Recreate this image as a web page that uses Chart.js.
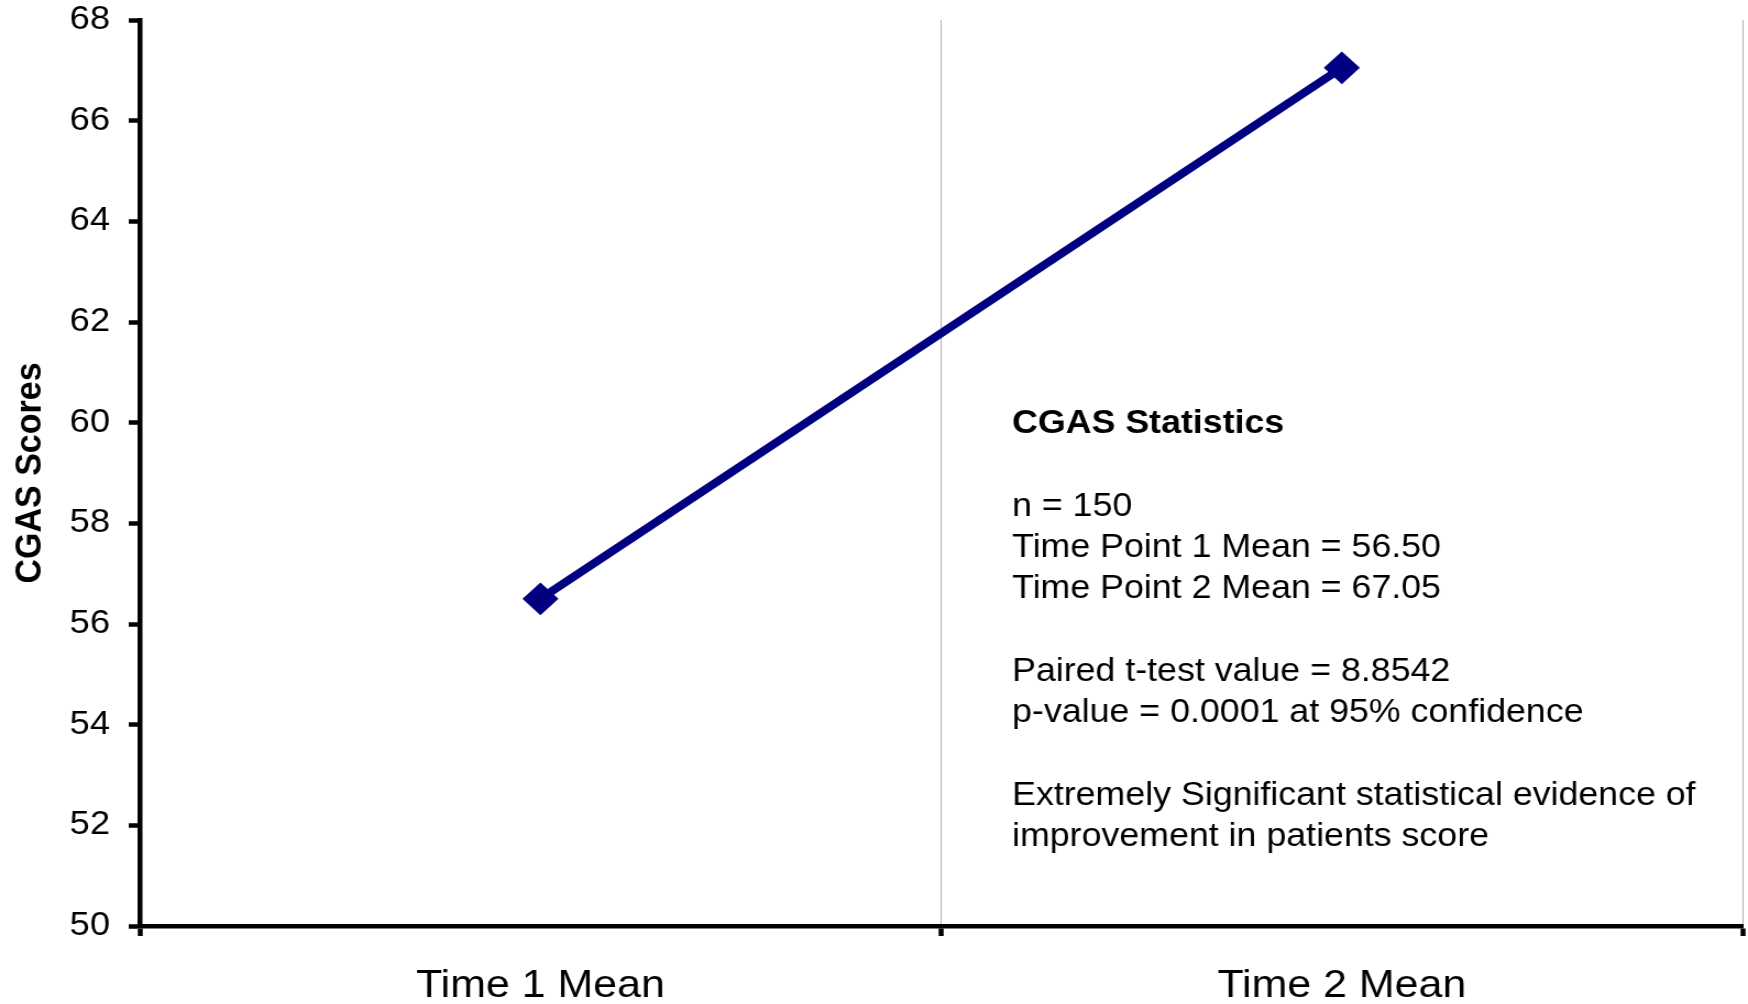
<!DOCTYPE html>
<html>
<head>
<meta charset="utf-8">
<title>CGAS Scores</title>
<script src="https://cdn.jsdelivr.net/npm/chart.js@4"></script>
<style>
  html, body { margin: 0; padding: 0; background: #fff; overflow: hidden; }
  #chart { display: block; }
</style>
</head>
<body>
<!-- the chart is laid out on a narrower canvas and widened on screen -->
<canvas id="chart" width="1589" height="1004" style="width:1748px;height:1004px"></canvas>
<script>
// Mean CGAS score at each time point
const categories = ['Time 1 Mean', 'Time 2 Mean'];
const cgasMeans = [56.50, 67.05];

// Y axis tick values
const yTickValues = [50, 52, 54, 56, 58, 60, 62, 64, 66, 68];

// Summary statistics shown beside the line
const sampleSize = 150;
const tTestValue = '8.8542';
const pValue = '0.0001';
const confidence = '95%';

const statsTitle = 'CGAS Statistics';
const statsLines = [
  '',
  'n = ' + sampleSize,
  'Time Point 1 Mean = ' + cgasMeans[0].toFixed(2),
  'Time Point 2 Mean = ' + cgasMeans[1].toFixed(2),
  '',
  'Paired t-test value = ' + tTestValue,
  'p-value = ' + pValue + ' at ' + confidence + ' confidence',
  '',
  'Extremely Significant statistical evidence of',
  'improvement in patients score'
];

const FONT = '"Liberation Sans", Arial, Helvetica, sans-serif';

// Draws the statistics block inside the plot area
const statsBlock = {
  id: 'statsBlock',
  afterDraw(chart) {
    const ctx = chart.ctx;
    const x = 920, y0 = 424, lh = 41.3;
    ctx.save();
    ctx.fillStyle = '#000';
    ctx.textAlign = 'left';
    ctx.textBaseline = 'middle';
    ctx.font = 'bold 32.5px ' + FONT;
    ctx.fillText(statsTitle, x, y0);
    ctx.font = '32.5px ' + FONT;
    statsLines.forEach((line, i) => {
      if (line) ctx.fillText(line, x, y0 + (i + 1) * lh);
    });
    ctx.restore();
  }
};

new Chart(document.getElementById('chart'), {
  type: 'line',
  data: {
    labels: categories,
    datasets: [{
      data: cgasMeans,
      borderColor: '#000080',
      backgroundColor: '#000080',
      borderWidth: 8,
      tension: 0,
      pointStyle: 'rectRot',
      pointRadius: 15,
      pointBorderWidth: 2,
      pointBackgroundColor: '#000080',
      pointBorderColor: '#000080',
      clip: false
    }]
  },
  options: {
    responsive: false,
    devicePixelRatio: 1,
    animation: false,
    layout: { autoPadding: false, padding: { top: 20, right: 5, bottom: 0, left: 0 } },
    plugins: {
      legend: { display: false },
      tooltip: { enabled: false }
    },
    scales: {
      x: {
        offset: true,
        grid: {
          offset: true,
          drawOnChartArea: true,
          color: '#b4b4b4',
          lineWidth: 1,
          tickColor: '#000',
          tickWidth: 4.5,
          tickLength: 10
        },
        border: { display: true, color: '#000', width: 4.5 },
        ticks: {
          color: '#000',
          font: { family: FONT, size: 39 },
          padding: 27,
          maxRotation: 0
        },
        afterFit(scale) {
          scale.height = 78;
          scale.paddingLeft = 0;
          scale.paddingRight = 0;
        }
      },
      y: {
        min: 50,
        max: 68,
        afterBuildTicks(scale) {
          scale.ticks = yTickValues.map(v => ({ value: v }));
        },
        grid: {
          drawOnChartArea: false,
          tickColor: '#000',
          tickWidth: 4.5,
          tickLength: 10
        },
        border: { display: true, color: '#000', width: 4.5 },
        ticks: {
          color: '#000',
          font: { family: FONT, size: 33 },
          padding: 17
        },
        title: {
          display: true,
          text: 'CGAS Scores',
          color: '#000',
          font: { family: FONT, size: 34, weight: 'bold' },
          padding: { top: 7, bottom: 0 }
        },
        afterFit(scale) {
          scale.width = 127;
          scale.paddingTop = 0;
          scale.paddingBottom = 0;
        }
      }
    }
  },
  plugins: [statsBlock]
});
</script>
</body>
</html>
